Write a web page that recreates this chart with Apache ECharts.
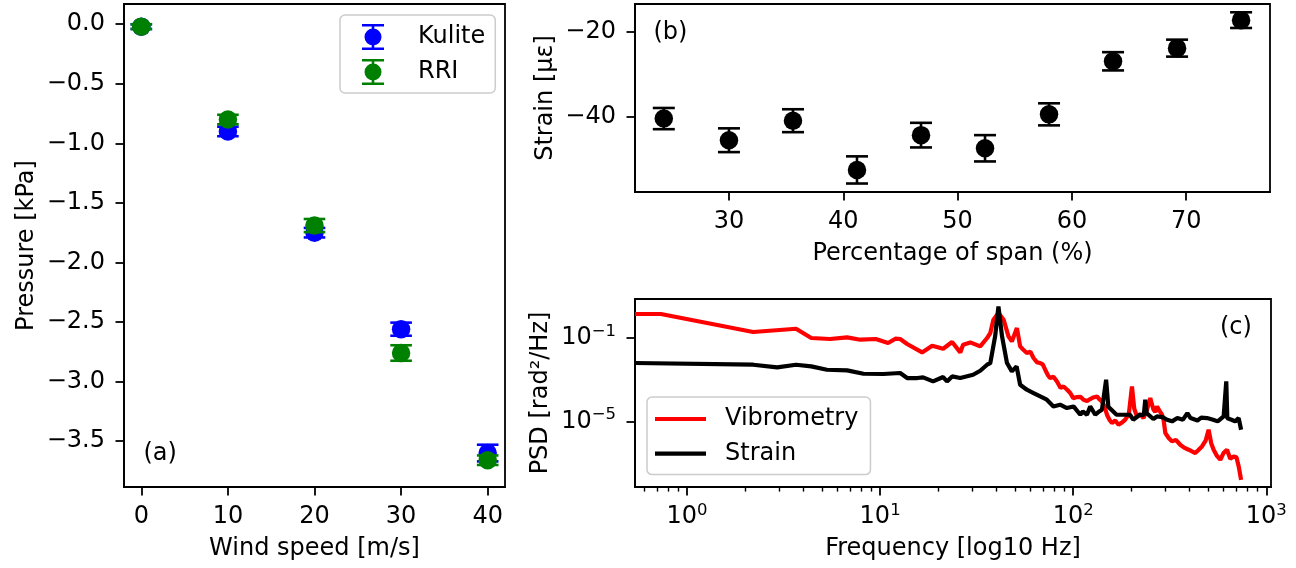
<!DOCTYPE html>
<html><head><meta charset="utf-8">
<script src="https://cdn.jsdelivr.net/npm/echarts@6/dist/echarts.min.js"></script>
<style>html,body{margin:0;padding:0;background:#fff}#c{width:1296px;height:568px}</style>
</head><body><div id="c"></div><script>
// ---------- data ----------
const windSpeed = [0, 10, 20, 30, 40];
const kuliteP   = [-0.02, -0.90, -1.75, -2.56, -3.60];
const kuliteErr = [0.02, 0.04, 0.04, 0.055, 0.07];
const rriP      = [-0.02, -0.80, -1.69, -2.76, -3.66];
const rriErr    = [0.02, 0.04, 0.055, 0.065, 0.04];

const spanPct    = [24.3, 30.0, 35.6, 41.2, 46.8, 52.4, 58.0, 63.6, 69.2, 74.8];
const strainMean = [-40.4, -45.5, -40.9, -52.5, -44.3, -47.4, -39.4, -26.9, -23.8, -17.2];
const strainErr  = [2.5, 2.8, 2.7, 3.2, 2.9, 3.1, 2.6, 2.15, 2.0, 1.85];

const vibFreq = [0.538, 0.733, 2.2, 3.67, 4.4, 5.5, 6.75, 7.9, 9.5, 11.0, 12.0, 12.7, 13.8, 16.5, 18.6, 21.2, 23.6, 26.0, 26.9, 29.3,
  33.0, 35.8, 37.2, 38.6, 41.0, 43.6, 46.2, 48.1, 51.1, 53.1, 55.0, 57.5, 60.0, 62.3, 65.0, 67.5, 69.5, 71.6, 74.0, 76.0,
  79.0, 82.4, 86.0, 89.1, 93.0, 96.5, 100, 104.5, 109, 113, 118, 122.4, 127, 132.7, 136, 140.8, 145, 149.5, 154, 158.6,
  165, 171.7, 178, 185.9, 194, 201.4, 207, 213.8, 222, 231.3, 236, 240.9, 250.6, 255, 260.8, 266, 271.5, 280, 288.3, 294,
  299.8, 312, 324.6, 340, 358.2, 375, 395.7, 412, 428.5, 445, 464.2, 485, 502.4, 518, 533.3, 555, 577.7, 600, 625.6, 650,
  677.3, 700, 719.2, 739.9];
const vibPSD = [1.42, 1.42, 0.194, 0.279, 0.100, 0.0895, 0.107, 0.0828, 0.0895, 0.0575, 0.0925, 0.0895, 0.0515, 0.0204, 0.0427, 0.0306, 0.0643, 0.0204, 0.0477, 0.0615,
  0.0395, 0.1, 0.174, 0.757, 1.58, 0.757, 0.119, 0.0687, 0.302, 0.0395, 0.028, 0.0191, 0.022, 0.011, 0.0068, 0.0063, 0.0055, 0.0030, 0.0016, 0.0012,
  0.0014, 8.25e-4, 4.0e-4, 4.74e-4, 3.3e-4, 2.29e-4, 1.3e-4, 1.47e-4, 1.5e-4, 1.09e-4, 9.5e-5, 1.18e-4, 1.4e-4, 1.57e-4, 1.2e-4, 9.0e-5, 5.5e-5, 2.08e-5, 1.2e-5, 8.3e-6,
  1.1e-5, 6.9e-6, 8.5e-6, 1.2e-5, 2.2e-5, 4.74e-4, 4.0e-5, 1.72e-5, 2.2e-5, 1.44e-5, 1.2e-5, 3.6e-5, 1.32e-4, 7.0e-5, 3.6e-5, 2.8e-5, 5.2e-5, 3.2e-5, 2.08e-5, 1.1e-5,
  2.75e-6, 1.6e-6, 1.09e-6, 1.3e-6, 7.55e-7, 5.5e-7, 4.35e-7, 3.6e-7, 3.0e-7, 4.2e-7, 6.25e-7, 1.2e-6, 3.96e-6, 9.0e-7, 4.35e-7, 2.2e-7, 1.44e-7, 3.0e-7, 4.35e-7, 1.6e-7,
  2.07e-7, 1.9e-7, 6.86e-8, 1.57e-8];

const strFreq = [0.538, 2.2, 2.93, 3.67, 4.4, 5.3, 6.75, 8.2, 10.4, 12.7, 13.8, 15.6, 16.7, 18.8, 21.2, 22.2, 23.6, 26.0, 30.3, 33.0,
  35.8, 37.2, 39.4, 41.0, 42.8, 45.4, 48.1, 50.9, 53.1, 57.5, 62.3, 67.5, 73.0, 79.0, 85.5, 92.7, 100.4, 108.8, 112, 117.8,
  122.4, 130, 135, 140.8, 144, 148, 152, 154, 167.6, 181.5, 196.6, 204.5, 221, 232, 236, 240, 245, 260, 271.5, 290,
  306, 325, 346, 370, 390, 405, 440, 460, 493, 530, 560, 601, 612, 620, 628, 660, 690, 719, 740];
const strPSD = [0.00631, 0.00523, 0.00388, 0.00523, 0.00433, 0.0030, 0.00279, 0.00193, 0.00187, 0.00209, 0.0012, 0.0012, 0.00129, 8.25e-4, 0.00134, 8.25e-4, 0.00144, 0.0012, 0.00173, 0.00269,
  0.00523, 0.0063, 0.119, 3.29, 0.119, 0.0063, 0.0025, 0.00433, 5.7e-4, 3.3e-4, 2.29e-4, 1.57e-4, 1.09e-4, 5.2e-5, 6.3e-5, 4.35e-5, 5.2e-5, 2.08e-5, 3.0e-5, 2.08e-5,
  5.2e-5, 2.08e-5, 2.8e-5, 3.6e-5, 4.0e-5, 9.95e-4, 5.0e-5, 4.35e-5, 2.08e-5, 2.08e-5, 2.08e-5, 1.2e-5, 2.08e-5, 2.0e-5, 1.09e-4, 2.5e-5, 2.08e-5, 1.3e-5, 1.72e-5, 1.6e-5,
  1.2e-5, 1.0e-5, 1.44e-5, 1.2e-5, 2.51e-5, 1.44e-5, 1.1e-5, 1.5e-5, 1.44e-5, 1.2e-5, 1.0e-5, 1.72e-5, 1.4e-5, 8.3e-4, 1.4e-5, 1.2e-5, 1.0e-5, 1.44e-5, 3.96e-6];

const windTicks     = [0, 10, 20, 30, 40];
const pressureTicks = [0, -0.5, -1.0, -1.5, -2.0, -2.5, -3.0, -3.5];
const spanTicks     = [30, 40, 50, 60, 70];
const strainTicks   = [-20, -40];
const freqMajor     = [1, 10, 100, 1000];
const freqMinor     = [0.6, 0.7, 0.8, 0.9, 2, 3, 4, 5, 6, 7, 8, 9, 20, 30, 40, 50, 60, 70, 80, 90, 200, 300, 400, 500, 600, 700, 800, 900];
const psdTicks      = [1e-1, 1e-5];

// ---------- helpers ----------
const FONT = 'DejaVu Sans';
const FS = 24;
const minus = v => (v < 0 ? '\u2212' : '') + Math.abs(v);
const pow10Label = v => { const e = Math.round(Math.log10(v)); return '{b|10}{s|' + (e < 0 ? '\u2212' : '') + Math.abs(e) + '}'; };
const supRich = { b: { fontSize: FS, fontFamily: FONT, color: '#000', lineHeight: 30 },
                  s: { fontSize: 16.5, fontFamily: FONT, color: '#000', lineHeight: 14, verticalAlign: 'top' } };

function axis(o) {
  return {
    type: o.type || 'value', gridIndex: o.grid, min: o.min, max: o.max, position: o.position,
    name: o.name, nameLocation: 'middle', nameGap: o.nameGap,
    nameTextStyle: { color: '#000', fontSize: FS, fontFamily: FONT },
    axisLine: { show: o.line !== false, onZero: false, lineStyle: { color: '#000', width: 1.8 } },
    axisTick: { show: true, length: o.tickLen || 8.5, customValues: o.ticks, lineStyle: { color: '#000', width: o.tickW || 1.8 } },
    axisLabel: { show: o.labels !== false, customValues: o.ticks, formatter: o.fmt, rich: o.rich,
                 color: '#000', fontSize: FS, fontFamily: FONT, margin: o.margin },
    splitLine: { show: false }, minorTick: { show: false }
  };
}

function errRender(capHalf) {
  return function (params, api) {
    const x = api.value(0);
    const p1 = api.coord([x, api.value(1)]);
    const p2 = api.coord([x, api.value(2)]);
    const style = { stroke: api.visual('color'), lineWidth: 2.6 };
    return { type: 'group', children: [
      { type: 'line', shape: { x1: p1[0], y1: p1[1], x2: p2[0], y2: p2[1] }, style: style },
      { type: 'line', shape: { x1: p1[0] - capHalf, y1: p1[1], x2: p1[0] + capHalf, y2: p1[1] }, style: style },
      { type: 'line', shape: { x1: p2[0] - capHalf, y1: p2[1], x2: p2[0] + capHalf, y2: p2[1] }, style: style }
    ] };
  };
}

const errIcon = 'path://M0,0H22V2.6H0Z M0,23.4H22V26H0Z M9.7,0H12.3V26H9.7Z M2.5,13A8.5,8.5 0 1 1 19.5,13A8.5,8.5 0 1 1 2.5,13Z';

const chart = echarts.init(document.getElementById('c'), null, { renderer: 'canvas' });
chart.setOption({
  animation: false,
  backgroundColor: '#fff',
  textStyle: { fontFamily: FONT },
  grid: [
    { left: 124, top: 4, width: 381, height: 483, show: true, borderColor: '#000', borderWidth: 1.8, containLabel: false },
    { left: 635, top: 4, width: 635, height: 188, show: true, borderColor: '#000', borderWidth: 1.8, containLabel: false },
    { left: 635, top: 299, width: 636, height: 188, show: true, borderColor: '#000', borderWidth: 1.8, containLabel: false }
  ],
  xAxis: [
    axis({ grid: 0, min: -2, max: 42, ticks: windTicks, fmt: v => minus(v), margin: 18, name: 'Wind speed [m/s]', nameGap: 50 }),
    axis({ grid: 1, min: 21.78, max: 77.33, ticks: spanTicks, fmt: v => minus(v), margin: 18, name: 'Percentage of span (%)', nameGap: 50 }),
    axis({ grid: 2, type: 'log', min: 0.538, max: 1057, ticks: freqMajor, fmt: pow10Label, rich: supRich, margin: 15,
           name: 'Frequency [log10 Hz]', nameGap: 50, position: 'bottom' }),
    axis({ grid: 2, type: 'log', min: 0.538, max: 1057, ticks: freqMinor, labels: false, line: false, tickLen: 4.6, tickW: 1.4, position: 'bottom' })
  ],
  yAxis: [
    axis({ grid: 0, min: -3.885, max: 0.17, ticks: pressureTicks, fmt: v => (v < 0 ? '\u2212' : '') + Math.abs(v).toFixed(1), margin: 19,
           name: 'Pressure [kPa]', nameGap: 85 }),
    axis({ grid: 1, min: -57.7, max: -13.4, ticks: strainTicks, fmt: v => minus(v), margin: 19, name: 'Strain [\u03bc\u03b5]', nameGap: 77 }),
    axis({ grid: 2, type: 'log', min: 7.08e-9, max: 7.45, ticks: psdTicks, fmt: pow10Label, rich: supRich, margin: 19,
           name: 'PSD [rad\u00b2/Hz]', nameGap: 82 })
  ],
  legend: [
    { orient: 'vertical', left: 340, top: 15, padding: [9, 10, 8, 22], itemGap: 9, itemWidth: 22, itemHeight: 26,
      backgroundColor: 'rgba(255,255,255,0.8)', borderColor: '#cccccc', borderWidth: 1.5, borderRadius: 5,
      textStyle: { color: '#000', fontSize: FS, fontFamily: FONT, lineHeight: 24, padding: [0, 0, 0, 29] },
      data: [{ name: 'Kulite', icon: errIcon }, { name: 'RRI', icon: errIcon }], selectedMode: false },
    { orient: 'vertical', left: 647, top: 397, padding: [10, 12, 9, 8], itemGap: 10.6, itemWidth: 51, itemHeight: 4.2,
      backgroundColor: 'rgba(255,255,255,0.8)', borderColor: '#cccccc', borderWidth: 1.5, borderRadius: 5,
      textStyle: { color: '#000', fontSize: FS, fontFamily: FONT, lineHeight: 24, padding: [0, 0, 0, 14] },
      data: [{ name: 'Vibrometry', icon: 'rect' }, { name: 'Strain', icon: 'rect' }], selectedMode: false }
  ],
  graphic: [
    { type: 'text', left: 143.5, top: 441.5, style: { text: '(a)', fontSize: FS, fontFamily: FONT, fill: '#000' }, z: 100 },
    { type: 'text', left: 653.5, top: 21, style: { text: '(b)', fontSize: FS, fontFamily: FONT, fill: '#000' }, z: 100 },
    { type: 'text', left: 1220, top: 316, style: { text: '(c)', fontSize: FS, fontFamily: FONT, fill: '#000' }, z: 100 }
  ],
  series: [
    { type: 'custom', name: 'Kulite err', xAxisIndex: 0, yAxisIndex: 0, z: 2, itemStyle: { color: '#0000ff' },
      renderItem: errRender(10.8), data: windSpeed.map((x, i) => [x, kuliteP[i] - kuliteErr[i], kuliteP[i] + kuliteErr[i]]) },
    { type: 'scatter', name: 'Kulite', xAxisIndex: 0, yAxisIndex: 0, z: 3, symbolSize: 18.5, itemStyle: { color: '#0000ff', opacity: 1 },
      data: windSpeed.map((x, i) => [x, kuliteP[i]]) },
    { type: 'custom', name: 'RRI err', xAxisIndex: 0, yAxisIndex: 0, z: 4, itemStyle: { color: '#008000' },
      renderItem: errRender(10.8), data: windSpeed.map((x, i) => [x, rriP[i] - rriErr[i], rriP[i] + rriErr[i]]) },
    { type: 'scatter', name: 'RRI', xAxisIndex: 0, yAxisIndex: 0, z: 5, symbolSize: 18.5, itemStyle: { color: '#008000', opacity: 1 },
      data: windSpeed.map((x, i) => [x, rriP[i]]) },
    { type: 'custom', name: 'span err', xAxisIndex: 1, yAxisIndex: 1, z: 2, itemStyle: { color: '#000' },
      renderItem: errRender(11), data: spanPct.map((x, i) => [x, strainMean[i] - strainErr[i], strainMean[i] + strainErr[i]]) },
    { type: 'scatter', name: 'span strain', xAxisIndex: 1, yAxisIndex: 1, z: 3, symbolSize: 18.5, itemStyle: { color: '#000', opacity: 1 },
      data: spanPct.map((x, i) => [x, strainMean[i]]) },
    { type: 'line', name: 'Vibrometry', xAxisIndex: 2, yAxisIndex: 2, z: 2, symbol: 'none', showSymbol: false,
      lineStyle: { color: '#ff0000', width: 4.2 }, itemStyle: { color: '#ff0000' },
      data: vibFreq.map((f, i) => [f, vibPSD[i]]) },
    { type: 'line', name: 'Strain', xAxisIndex: 2, yAxisIndex: 2, z: 3, symbol: 'none', showSymbol: false,
      lineStyle: { color: '#000000', width: 4.2 }, itemStyle: { color: '#000000' },
      data: strFreq.map((f, i) => [f, strPSD[i]]) }
  ]
});
</script></body></html>
